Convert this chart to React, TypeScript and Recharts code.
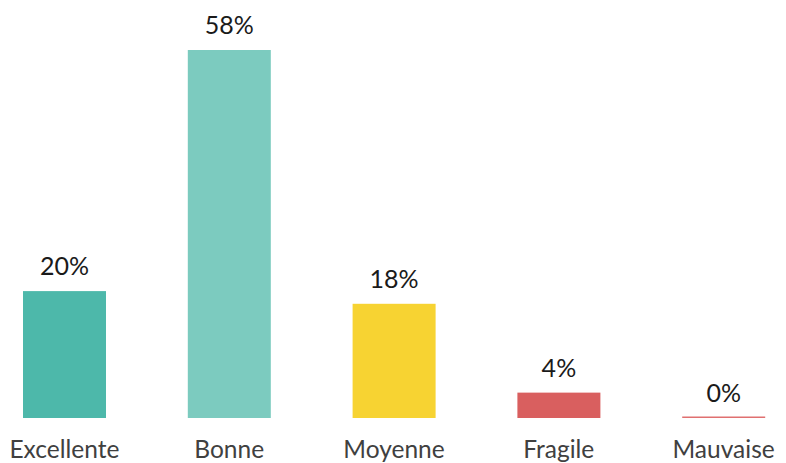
import { Bar, BarChart, Cell, LabelList, XAxis, YAxis } from "recharts";

const categories = ["Excellente", "Bonne", "Moyenne", "Fragile", "Mauvaise"];
const values = [20, 58, 18, 4, 0];
const colors = ["#4db8aa", "#7ccbbf", "#f7d332", "#d95f5f", "#e07070"];

const data = categories.map((name, i) => ({ name, value: values[i] }));

const FONT = "Lato, 'Open Sans', sans-serif";

function BarShape(props: any) {
    const { x, y, width, height, fill } = props;
    const h = Math.max(height, 1.5);
    return <rect x={x} y={y + height - h} width={width} height={h} fill={fill} />;
}

function ValueLabel(props: any) {
    const { x, y, width, value } = props;
    return (
        <text
            x={x + width / 2}
            y={y - 16}
            textAnchor="middle"
            fontFamily={FONT}
            fontSize={25}
            fill="#1a1a1a"
        >
            {value}%
        </text>
    );
}

function CategoryTick(props: any) {
    const { x, y, payload } = props;
    return (
        <text x={x} y={y + 32} textAnchor="middle" fontFamily={FONT} fontSize={24.5} fill="#404040">
            {payload.value}
        </text>
    );
}

export default function App() {
    return (
        <div
            style={{
                position: "absolute",
                left: 0,
                top: 0,
                width: 786,
                height: 463,
                overflow: "hidden",
                background: "#fff",
            }}
        >
            <div style={{ position: "absolute", left: -18, top: 0 }}>
                <BarChart
                    width={824}
                    height={463}
                    data={data}
                    margin={{ top: 50, right: 0, bottom: 0, left: 0 }}
                >
                    <XAxis
                        dataKey="name"
                        axisLine={false}
                        tickLine={false}
                        height={45}
                        interval={0}
                        tick={<CategoryTick />}
                    />
                    <YAxis hide domain={[0, 58]} />
                    <Bar dataKey="value" barSize={83} shape={<BarShape />} isAnimationActive={false}>
                        {data.map((d, i) => (
                            <Cell key={d.name} fill={colors[i]} />
                        ))}
                        <LabelList dataKey="value" content={<ValueLabel />} />
                    </Bar>
                </BarChart>
            </div>
        </div>
    );
}
